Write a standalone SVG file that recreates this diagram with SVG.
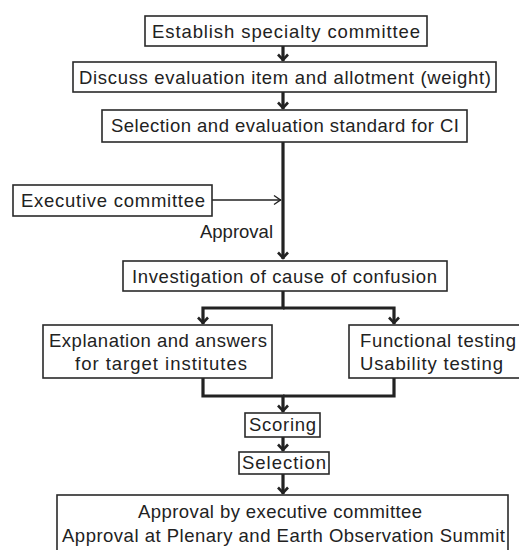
<svg xmlns="http://www.w3.org/2000/svg" width="519" height="550" viewBox="0 0 519 550">
<defs>
<marker id="ah" markerUnits="userSpaceOnUse" markerWidth="14" markerHeight="14" viewBox="-10 -7 12 14" refX="0" refY="0" orient="auto" overflow="visible">
<path d="M-6.5,-5 L-1.2,0 L-6.5,5" fill="none" stroke="#222" stroke-width="2.6"/>
</marker>
<marker id="ahs" markerUnits="userSpaceOnUse" markerWidth="12" markerHeight="12" viewBox="-10 -6 12 12" refX="0" refY="0" orient="auto" overflow="visible">
<path d="M-7,-4.5 L-0.5,0 L-7,4.5" fill="none" stroke="#222" stroke-width="1.4"/>
</marker>
</defs>
<style>
.box{fill:#fff;stroke:#2a2a2a;stroke-width:1.6}
.t{font-family:"Liberation Sans",Arial,sans-serif;font-size:18.5px;fill:#222;text-anchor:middle}
.l{text-anchor:start}
.e{text-anchor:end}
.c{fill:none;stroke:#222;stroke-width:3.2}
.thin{fill:none;stroke:#222;stroke-width:1.3}
</style>
<rect width="519" height="550" fill="#fff"/>
<g id="connectors">
<path class="c" d="M283,46 V61" marker-end="url(#ah)"/>
<path class="c" d="M283,92 V109" marker-end="url(#ah)"/>
<path class="c" d="M283,142 V259" marker-end="url(#ah)"/>
<path class="thin" d="M212,200 H281" marker-end="url(#ahs)"/>
<path class="c" d="M283,291 V308 H203 V324" marker-end="url(#ah)"/>
<path class="c" d="M283,308 H394 V324" marker-end="url(#ah)"/>
<path class="c" d="M203,378 V396 H283 V412" marker-end="url(#ah)"/>
<path class="c" d="M394,378 V396 H283"/>
<path class="c" d="M283,437 V451" marker-end="url(#ah)"/>
<path class="c" d="M283,474 V494" marker-end="url(#ah)"/>
</g>
<g id="n1"><rect class="box" x="145" y="16" width="282" height="30"/><text class="t" x="286" y="37.5" textLength="268">Establish specialty committee</text></g>
<g id="n2"><rect class="box" x="73" y="62" width="423" height="30"/><text class="t" x="285" y="83.5" textLength="412">Discuss evaluation item and allotment (weight)</text></g>
<g id="n3"><rect class="box" x="102" y="110" width="365" height="32"/><text class="t" x="285" y="132" textLength="348">Selection and evaluation standard for CI</text></g>
<g id="n4"><rect class="box" x="13" y="185" width="199" height="31"/><text class="t" x="113" y="207" textLength="184">Executive committee</text></g>
<g id="lbl"><text class="t e" x="273" y="238" textLength="73">Approval</text></g>
<g id="n5"><rect class="box" x="123" y="261" width="324" height="30"/><text class="t" x="284.5" y="282.5" textLength="305">Investigation of cause of confusion</text></g>
<g id="n6"><rect class="box" x="43" y="325" width="229" height="53"/><text class="t" x="158" y="347" textLength="218">Explanation and answers</text><text class="t" x="161" y="370" textLength="172">for target institutes</text></g>
<g id="n7"><rect class="box" x="349" y="325" width="180" height="53"/><text class="t l" x="360" y="347" textLength="156">Functional testing</text><text class="t l" x="360" y="370" textLength="143">Usability testing</text></g>
<g id="n8"><rect class="box" x="245" y="413" width="75" height="24"/><text class="t" x="282.5" y="431" textLength="67">Scoring</text></g>
<g id="n9"><rect class="box" x="239" y="452" width="90" height="22"/><text class="t" x="284" y="469" textLength="84">Selection</text></g>
<g id="n10"><rect class="box" x="57" y="495" width="451" height="60"/><text class="t" x="280" y="518" textLength="284">Approval by executive committee</text><text class="t" x="283.5" y="542" textLength="443">Approval at Plenary and Earth Observation Summit</text></g>
</svg>
